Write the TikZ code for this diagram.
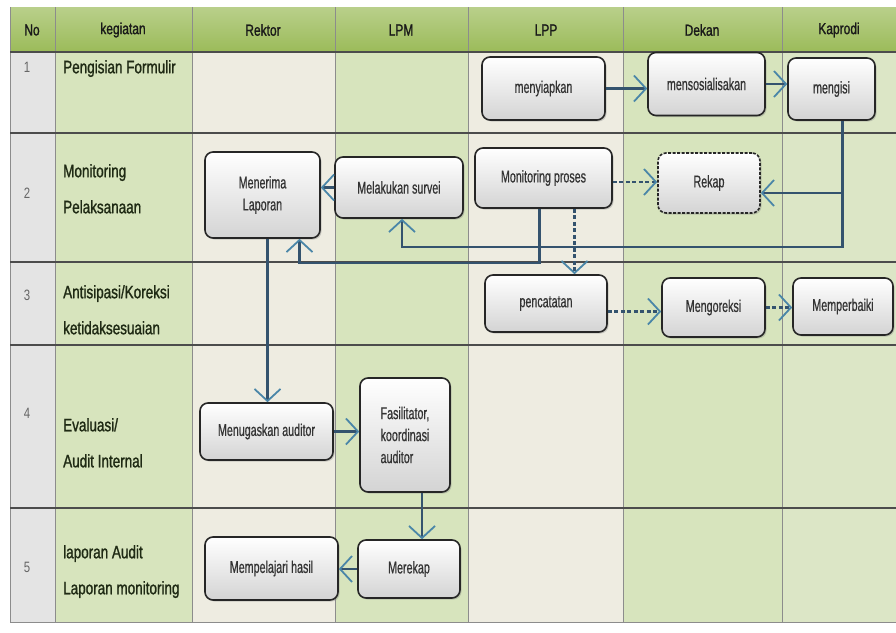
\documentclass[tikz,border=0pt]{standalone}
\usepackage{fontspec}
\setmainfont{Liberation Sans}[FakeStretch=0.76]
\newfontfamily\taskfont{Liberation Sans}[FakeStretch=0.63, FakeBold=0.6]
\newfontfamily\lanefont{Liberation Sans}[FakeStretch=0.75, FakeBold=1.2]
\usetikzlibrary{arrows.meta,shadows}

\definecolor{hdrgreen}{HTML}{9BBB59}
\definecolor{lanegreen}{HTML}{D7E4BD}
\definecolor{lanegreenb}{HTML}{DCE6C6}
\definecolor{lanebeige}{HTML}{EEECE1}
\definecolor{nogray}{HTML}{E4E4E4}
\definecolor{flowline}{HTML}{34536E}
\definecolor{tipblue}{HTML}{4A86A8}
\definecolor{labeltext}{HTML}{1F2A14}

\begin{document}
\begin{tikzpicture}[
    x=1pt, y=1pt,
    font=\taskfont\fontsize{17}{22}\selectfont,
    task/.style={rectangle, rounded corners=8pt, draw=black!85, line width=1.6pt, top color=white, bottom color=black!17, drop shadow={shadow xshift=1.5pt, shadow yshift=-1.5pt, opacity=0.35}, text centered, text=black!80, inner sep=2pt},
    header/.style={font=\lanefont\fontsize{16}{18}\selectfont, text=black!90},
    rownum/.style={font=\fontsize{15}{18}\selectfont, text=black!60},
    rowlabel/.style={anchor=north west, inner sep=0pt, align=left, font=\lanefont\fontsize{18}{36}\selectfont, text=labeltext},
    arrow/.style={line width=2.2pt, draw=flowline, -{Straight Barb[length=12pt, width=26pt, line width=1.8pt, color=tipblue]}},
    dashed_arrow/.style={arrow, dash pattern=on 4pt off 2.5pt},
    gridline/.style={draw=black!45, line width=0.7pt},
    rowline/.style={draw=black!70, line width=1.4pt}
]
\useasboundingbox (0,0) rectangle (896,-632);

% --- Table ---
% Header band
\shade[top color=hdrgreen!70!white, bottom color=hdrgreen] (10,-7) rectangle (896,-52);

% Lanes
\foreach \xa/\xb/\col in {10/55/nogray, 55/192/lanegreen, 192/335/lanebeige, 335/468/lanegreen, 468/623/lanebeige, 623/782/lanegreen, 782/896/lanegreenb}
    \fill[\col] (\xa,-52) rectangle (\xb,-622);

% Grid
\foreach \x in {10,55,192,335,468,623,782}
    \draw[gridline] (\x,-7) -- (\x,-622);
\foreach \y in {52,133,262,345,508}
    \draw[rowline] (10,-\y) -- (896,-\y);
\draw[gridline] (10,-622) -- (896,-622);

% Column titles
\node (h_no) at (32,-30) [header] {No};
\node (h_keg) at (123,-30) [header] {kegiatan};
\node (h_rektor) at (263,-30) [header] {Rektor};
\node (h_lpm) at (401,-30) [header] {LPM};
\node (h_lpp) at (546,-30) [header] {LPP};
\node (h_dekan) at (702,-30) [header] {Dekan};
\node (h_kaprodi) at (839,-30) [header] {Kaprodi};

% Row numbers and activities
\node (n1) at (27,-67) [rownum] {1};
\node (n2) at (27,-193) [rownum] {2};
\node (n3) at (27,-295) [rownum] {3};
\node (n4) at (27,-413) [rownum] {4};
\node (n5) at (27,-567) [rownum] {5};

\node (k1) at (63,-60) [rowlabel] {Pengisian Formulir};
\node (k2) at (63,-164) [rowlabel] {Monitoring\\Pelaksanaan};
\node (k3) at (63,-285) [rowlabel] {Antisipasi/Koreksi\\ketidaksesuaian};
\node (k4) at (63,-418) [rowlabel] {Evaluasi/\\Audit Internal};
\node (k5) at (63,-545) [rowlabel] {laporan Audit\\Laporan monitoring};

% --- Nodes ---
% Row 1
\node (siap) at (543.5,-88.5) [task, minimum width=123pt, minimum height=63pt] {menyiapkan};
\node (sosial) at (706.5,-84) [task, minimum width=117pt, minimum height=63pt] {mensosialisakan};
\node (isi) at (831.5,-89) [task, minimum width=87pt, minimum height=62pt] {mengisi};

% Row 2
\node (terima) at (262.5,-195) [task, minimum width=115pt, minimum height=86pt, align=center] {Menerima\\Laporan};
\node (survei) at (399,-187.5) [task, minimum width=128pt, minimum height=61pt] {Melakukan survei};
\node (monitor) at (543.5,-178) [task, minimum width=137pt, minimum height=60pt] {Monitoring proses};
\node (rekap) at (709,-183) [task, minimum width=102pt, minimum height=60pt, dash pattern=on 3pt off 1.5pt] {Rekap};

% Row 3
\node (catat) at (546,-303.5) [task, minimum width=122pt, minimum height=57pt] {pencatatan};
\node (koreksi) at (713.5,-307.5) [task, minimum width=103pt, minimum height=59pt] {Mengoreksi};
\node (perbaiki) at (843,-306.5) [task, minimum width=100pt, minimum height=57pt] {Memperbaiki};

% Row 4
\node (tugas) at (266.5,-431.5) [task, minimum width=133pt, minimum height=57pt] {Menugaskan auditor};
\node (fasil) at (405,-435) [task, minimum width=90pt, minimum height=114pt, align=left] {Fasilitator,\\koordinasi\\auditor};

% Row 5
\node (merekap) at (409,-569) [task, minimum width=102pt, minimum height=58pt] {Merekap};
\node (pelajari) at (271.5,-568.5) [task, minimum width=133pt, minimum height=63pt] {Mempelajari hasil};

% Helper points for the return lines
\coordinate (bus1) at (0,-247);
\coordinate (bus2) at (0,-263);
\coordinate (isi_drop) at ([xshift=11pt]isi.south);
\coordinate (rekap_in) at ([yshift=-10pt]rekap.east);
\coordinate (mon_drop) at ([xshift=-4pt]monitor.south);
\coordinate (mon_dash) at ([xshift=31pt]monitor.south);
\coordinate (mon_out) at ([yshift=-4pt]monitor.east);
\coordinate (cat_out) at ([yshift=-8pt]catat.east);
\coordinate (ter_drop) at ([xshift=5pt]terima.south);
\coordinate (fas_drop) at ([xshift=17pt]fasil.south);

% --- Edges ---
\draw [arrow] (siap.east) -- (siap.east -| sosial.west);
\draw [arrow] (sosial.east) -- (sosial.east -| isi.west);

% Kaprodi back to Rekap and survei
\draw [arrow] (isi_drop) -- (isi_drop |- bus1) -| ([xshift=3pt]survei.south);
\draw [arrow] (isi_drop |- rekap_in) -- (rekap_in);

% Monitoring
\draw [arrow] (mon_drop) -- (mon_drop |- bus2) -| ([xshift=37pt]terima.south);
\draw [dashed_arrow] (mon_out) -- (mon_out -| rekap.west);
\draw [dashed_arrow] (mon_dash) -- (mon_dash |- catat.north);
\draw [arrow] (survei.west) -- (survei.west -| terima.east);

% Correction
\draw [dashed_arrow] (cat_out) -- (cat_out -| koreksi.west);
\draw [dashed_arrow] (koreksi.east) -- (koreksi.east -| perbaiki.west);

% Audit
\draw [arrow] (ter_drop) -- (ter_drop |- tugas.north);
\draw [arrow] (tugas.east) -- (tugas.east -| fasil.west);
\draw [arrow] (fas_drop) -- (fas_drop |- merekap.north);
\draw [arrow] (merekap.west) -- (merekap.west -| pelajari.east);

\end{tikzpicture}
\end{document}
